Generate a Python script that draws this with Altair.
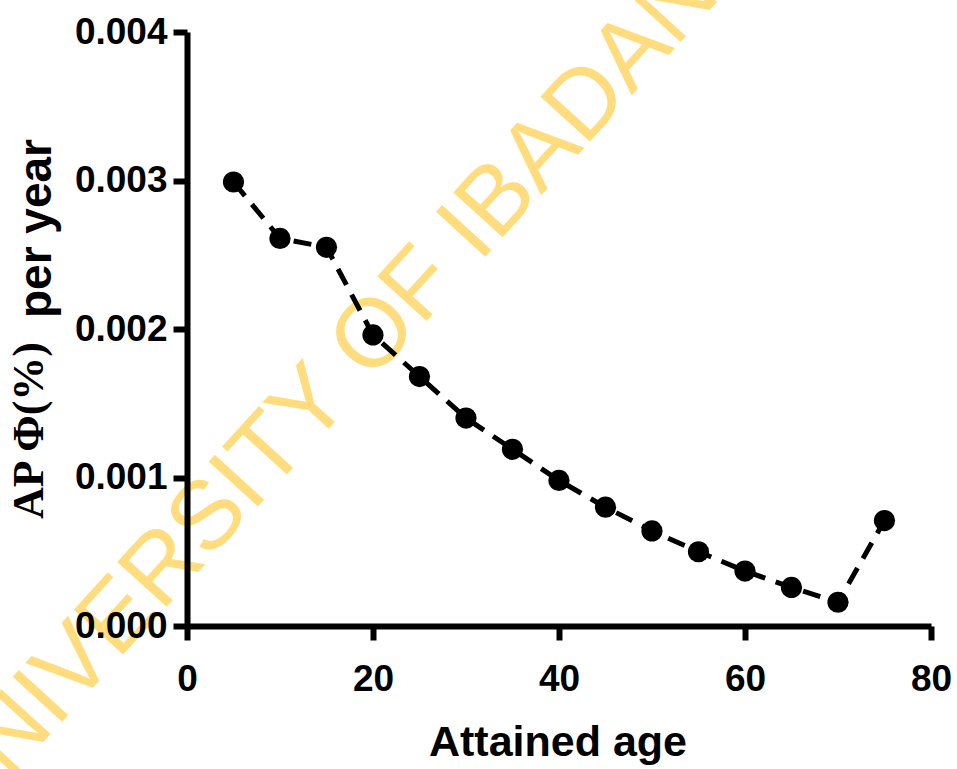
import altair as alt
import pandas as pd

# ---- data ----
ages = [5, 10, 15, 20, 25, 30, 35, 40, 45, 50, 55, 60, 65, 70, 75]
ap_phi = [0.00299, 0.00261, 0.00255, 0.00196, 0.00168, 0.00140, 0.00119,
          0.00098, 0.00080, 0.00064, 0.00050, 0.00037, 0.00026, 0.00016, 0.00071]
x_ticks = [0, 20, 40, 60, 80]
y_ticks = [0.0, 0.001, 0.002, 0.003, 0.004]
x_title = "Attained age"
y_title_serif = "AP Φ(%)"
y_title_sans = "per year"
watermark = "UNIVERSITY OF IBADAN"

df = pd.DataFrame({"age": ages, "ap": ap_phi})

W, H = 744, 594
SANS = "Liberation Sans, Arial, sans-serif"

x_enc = alt.X(
    "age:Q",
    scale=alt.Scale(domain=[0, 80], nice=False, zero=False),
    axis=alt.Axis(values=x_ticks, format="d", title=None, grid=False,
                  labelFont=SANS, labelFontWeight="bold", labelFontSize=37,
                  labelColor="black", labelPadding=21, labelFlush=False,
                  labelOverlap=False, tickSize=14, tickWidth=6, tickColor="black",
                  domainWidth=6, domainColor="black", zindex=1),
)
y_enc = alt.Y(
    "ap:Q",
    scale=alt.Scale(domain=[0, 0.004], nice=False, zero=False),
    axis=alt.Axis(values=y_ticks, format=".3f", title=None, grid=False,
                  labelFont=SANS, labelFontWeight="bold", labelFontSize=37,
                  labelColor="black", labelPadding=6, labelFlush=False,
                  labelOverlap=False, tickSize=14, tickWidth=6, tickColor="black",
                  domainWidth=6, domainColor="black", zindex=1),
)

wm = alt.Chart(pd.DataFrame({"t": [watermark]})).mark_text(
    font="Liberation Sans", fontSize=97, angle=312.3, align="center",
    baseline="alphabetic", color="#FFDD7E"
).encode(x=alt.value(155), y=alt.value(382), text="t:N")

line = alt.Chart(df).mark_line(
    color="black", strokeWidth=5, strokeDash=[18, 11]
).encode(x=x_enc, y=y_enc)

pts = alt.Chart(df).mark_point(
    filled=True, color="black", opacity=1, size=450
).encode(x="age:Q", y="ap:Q")

yt1 = alt.Chart(pd.DataFrame({"t": [y_title_serif]})).mark_text(
    font="Liberation Serif", fontWeight="bold", fontSize=44, angle=270,
    align="left", baseline="alphabetic", color="black"
).encode(x=alt.value(-144), y=alt.value(487), text="t:N")

yt2 = alt.Chart(pd.DataFrame({"t": [y_title_sans]})).mark_text(
    font=SANS, fontWeight="bold", fontSize=46, angle=270,
    align="left", baseline="alphabetic", color="black"
).encode(x=alt.value(-136), y=alt.value(286), text="t:N")

xt = alt.Chart(pd.DataFrame({"t": [x_title]})).mark_text(
    font=SANS, fontWeight="bold", fontSize=43, align="center",
    baseline="alphabetic", color="black"
).encode(x=alt.value(371), y=alt.value(724), text="t:N")

chart = alt.layer(wm, line, pts, yt1, yt2, xt).properties(
    width=W, height=H,
    padding={"left": 187, "top": 32, "right": 26, "bottom": 143},
    autosize=alt.AutoSizeParams(type="none"),
    background="white",
).configure_view(stroke=None)

chart.save("out.html", embed_options={"renderer": "svg", "actions": False})
